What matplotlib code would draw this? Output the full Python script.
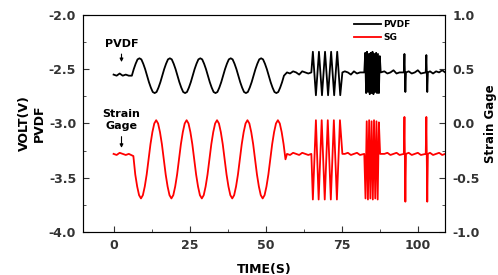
import matplotlib.pyplot as plt
from matplotlib.ticker import MultipleLocator

plt.rcParams['font.family'] = ['DejaVu Sans']
plt.rcParams['font.weight'] = 'bold'

# ---- PVDF trace (left axis, V) ----
slowPvdfCycle = [-2.56, -2.50, -2.45, -2.41, -2.40, -2.41, -2.45, -2.50,
                 -2.56, -2.62, -2.67, -2.71, -2.72, -2.71, -2.67, -2.62]
pvdfTime = [0, 1, 2, 3, 4, 5, 6] + [6 + 0.625 * k for k in range(1, 81)]
pvdfVolt = [-2.55, -2.56, -2.54, -2.56, -2.55, -2.56, -2.56] + (slowPvdfCycle * 5)[1:] + [-2.56]
pvdfTime += [57, 58, 59, 60, 61, 62, 63, 64, 65]
pvdfVolt += [-2.53, -2.54, -2.52, -2.53, -2.55, -2.52, -2.53, -2.54, -2.53]
pvdfTime += [65.5, 66.5, 67.5, 68.5, 69.5, 70.5, 71.5, 72.5, 73.5, 74.5, 75.2]
pvdfVolt += [-2.34, -2.74, -2.34, -2.74, -2.34, -2.74, -2.34, -2.74, -2.34, -2.74, -2.53]
pvdfTime += [76, 77, 78, 79, 80, 81, 82.4]
pvdfVolt += [-2.52, -2.53, -2.55, -2.52, -2.54, -2.53, -2.53]
pvdfTime += [82.7, 83.0, 83.3, 83.6, 83.9, 84.2, 84.5, 84.8, 85.1, 85.4, 85.7, 86.0,
             86.3, 86.6, 86.9, 87.2, 87.5, 87.8]
pvdfVolt += [-2.35, -2.72, -2.34, -2.71, -2.36, -2.73, -2.35, -2.72, -2.34, -2.73,
             -2.36, -2.71, -2.35, -2.72, -2.36, -2.72, -2.38, -2.53]
pvdfTime += [89, 90, 91, 92, 93, 94, 95.4, 95.6, 95.9, 96.1, 97, 98, 99, 100, 101, 102.6,
             102.8, 103.1, 103.3, 104, 105, 106, 107, 108, 109]
pvdfVolt += [-2.52, -2.54, -2.53, -2.51, -2.54, -2.53, -2.53, -2.36, -2.71, -2.53, -2.52,
             -2.54, -2.53, -2.51, -2.54, -2.53, -2.37, -2.71, -2.53, -2.52, -2.54, -2.52,
             -2.53, -2.51, -2.53]

# ---- Strain gage trace (plotted on left axis scale) ----
slowSgCycle = [-3.33, -3.47, -3.58, -3.66, -3.69, -3.66, -3.58, -3.47,
               -3.33, -3.19, -3.08, -3.00, -2.97, -3.00, -3.08, -3.19]
sgTime = [0, 1, 2, 3, 4, 5, 6.5] + [6.5 + 0.625 * k for k in range(1, 81)]
sgVolt = [-3.28, -3.29, -3.27, -3.28, -3.29, -3.28, -3.30] + (slowSgCycle * 5)[1:] + [-3.33]
sgTime += [57, 58, 59, 60, 61, 62, 63, 64, 65]
sgVolt += [-3.28, -3.29, -3.27, -3.28, -3.29, -3.27, -3.28, -3.29, -3.28]
sgTime += [65.5, 66.5, 67.4, 68.4, 69.4, 70.4, 71.4, 72.4, 73.4, 74.4, 75.2]
sgVolt += [-3.70, -2.97, -3.70, -2.97, -3.70, -2.97, -3.70, -2.97, -3.70, -2.97, -3.28]
sgTime += [76, 77, 78, 79, 80, 81, 82.4]
sgVolt += [-3.28, -3.27, -3.29, -3.28, -3.27, -3.29, -3.28]
sgTime += [82.8, 83.2, 83.6, 84.0, 84.4, 84.8, 85.2, 85.6, 86.0, 86.4, 86.8, 87.2, 87.6]
sgVolt += [-3.69, -2.98, -3.70, -2.97, -3.69, -2.98, -3.70, -2.97, -3.69, -2.98, -3.70,
           -2.99, -3.28]
sgTime += [89, 90, 91, 92, 93, 94, 95.4, 95.6, 95.9, 96.1, 97, 98, 99, 100, 101, 102.6,
           102.8, 103.1, 103.3, 104, 105, 106, 107, 108, 109]
sgVolt += [-3.28, -3.27, -3.29, -3.28, -3.27, -3.29, -3.28, -2.94, -3.72, -3.28, -3.27,
           -3.29, -3.28, -3.27, -3.29, -3.28, -2.94, -3.72, -3.28, -3.27, -3.29, -3.28,
           -3.27, -3.29, -3.28]

fig = plt.figure(figsize=(4.98, 2.75), dpi=100)
ax = fig.add_axes([0.167, 0.156, 0.727, 0.79])
ax.plot(pvdfTime, pvdfVolt, color='black', lw=1.3, label='PVDF')
ax.plot(sgTime, sgVolt, color='red', lw=1.3, label='SG')

ax.set_xlim(-10, 109)
ax.set_ylim(-4.0, -2.0)
ax.xaxis.set_major_locator(MultipleLocator(25))
ax.xaxis.set_minor_locator(MultipleLocator(12.5))
ax.yaxis.set_major_locator(MultipleLocator(0.5))
ax.yaxis.set_minor_locator(MultipleLocator(0.25))
ax.set_yticklabels([f'{v:.1f}' for v in ax.get_yticks()])
ax.tick_params(which='both', direction='in', labelsize=9, colors='#333333', pad=5)
ax.tick_params(which='major', length=4)
ax.tick_params(which='minor', length=2.5)
for s in ax.spines.values():
    s.set_color('#555555')
ax.set_xlabel('TIME(S)', fontsize=9, fontweight='bold', labelpad=8)
ax.set_ylabel('VOLT(V)\nPVDF', fontsize=9, fontweight='bold', labelpad=2)

ax2 = ax.twinx()
ax2.set_ylim(-1.0, 1.0)
ax2.yaxis.set_major_locator(MultipleLocator(0.5))
ax2.yaxis.set_minor_locator(MultipleLocator(0.25))
ax2.set_yticklabels([f'{v:.1f}' for v in ax2.get_yticks()])
ax2.tick_params(which='both', direction='in', labelsize=9, colors='#333333', pad=5)
ax2.tick_params(which='major', length=4)
ax2.tick_params(which='minor', length=2.5)
ax2.set_ylabel('Strain Gage', fontsize=8.5, fontweight='bold', labelpad=3)

ax.legend(loc='upper right', frameon=False, fontsize=6.5, handlelength=3.0,
          handletextpad=0.3, borderaxespad=0.2, labelspacing=0.45,
          bbox_to_anchor=(0.92, 1.0))

ax.annotate('PVDF', xy=(2.6, -2.46), xytext=(2.6, -2.31), ha='center', va='bottom',
            fontsize=8, fontweight='bold',
            arrowprops=dict(arrowstyle='-|>', color='black', lw=0.8, mutation_scale=5))
ax.annotate('Strain\nGage', xy=(2.6, -3.25), xytext=(2.6, -3.07), ha='center', va='bottom',
            fontsize=8, fontweight='bold', linespacing=1.2,
            arrowprops=dict(arrowstyle='-|>', color='black', lw=0.8, mutation_scale=5))

plt.savefig('out.png', dpi=100)
